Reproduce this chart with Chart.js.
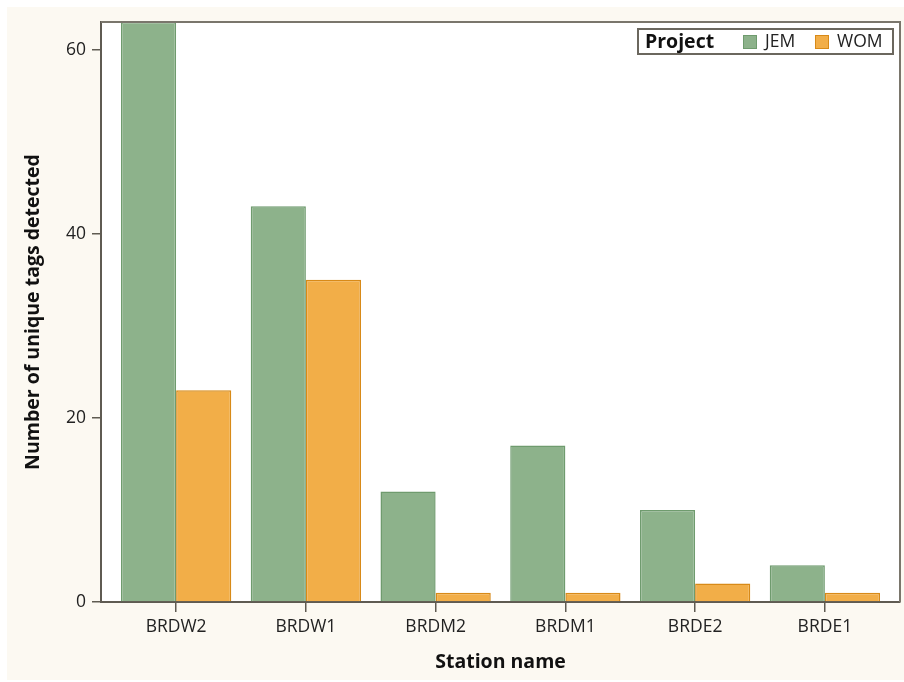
<!DOCTYPE html>
<html>
<head>
<meta charset="utf-8">
<script src="https://cdn.jsdelivr.net/npm/chart.js@4/dist/chart.umd.min.js"></script>
<style>
  html, body { margin: 0; padding: 0; background: #ffffff; }
  #wrap { width: 904px; height: 682px; }
</style>
</head>
<body>
<div id="wrap"><canvas id="chart" width="904" height="682"></canvas></div>
<script>
// ── Data ────────────────────────────────────────────────────────────────
const stations = ['BRDW2', 'BRDW1', 'BRDM2', 'BRDM1', 'BRDE2', 'BRDE1'];
const jemCounts = [63, 43, 12, 17, 10, 4];
const womCounts = [23, 35, 1, 1, 2, 1];
const yTicks = [0, 20, 40, 60];

const FONT = '"Open Sans", Lato, sans-serif';
const AXIS = '#5f5b52';
const FRAME = '#7a766c';

const toPoints = (vals) => vals.map((v, i) => ({ x: i, y: v }));

// ── Background, plot frame and legend ───────────────────────────────────
const decor = {
    id: 'decor',
    beforeDraw(chart) {
        const { ctx, chartArea: a } = chart;
        ctx.save();
        ctx.fillStyle = '#fcf9f2';
        ctx.fillRect(7, 7, chart.width - 7, chart.height - 9);
        ctx.fillStyle = '#ffffff';
        ctx.fillRect(a.left, a.top, a.right - a.left, a.bottom - a.top);
        ctx.restore();
    },
    afterDraw(chart) {
        const { ctx, chartArea: a } = chart;
        ctx.save();
        ctx.strokeStyle = FRAME;
        ctx.lineWidth = 2;
        ctx.beginPath();
        ctx.moveTo(a.left, a.top);
        ctx.lineTo(a.right, a.top);
        ctx.lineTo(a.right, a.bottom);
        ctx.stroke();

        // legend
        const x0 = a.right - 262, y0 = a.top + 7, w = 255, h = 25;
        ctx.fillStyle = '#ffffff';
        ctx.fillRect(x0, y0, w, h);
        ctx.strokeStyle = '#6b675e';
        ctx.lineWidth = 2;
        ctx.strokeRect(x0, y0, w, h);
        ctx.textBaseline = 'middle';
        ctx.fillStyle = '#111111';
        ctx.font = 'bold 19.5px ' + FONT;
        ctx.fillText('Project', x0 + 7, y0 + h / 2 + 1);
        const items = [
            { label: 'JEM', fill: '#8db28b', stroke: '#6f9b6e', x: x0 + 105 },
            { label: 'WOM', fill: '#f2ae48', stroke: '#d88a18', x: x0 + 177 }
        ];
        ctx.font = '17.5px ' + FONT;
        items.forEach(it => {
            ctx.fillStyle = it.fill;
            ctx.fillRect(it.x, y0 + 6, 14, 14);
            ctx.strokeStyle = it.stroke;
            ctx.lineWidth = 1;
            ctx.strokeRect(it.x + 0.5, y0 + 6.5, 13, 13);
            ctx.fillStyle = '#222222';
            ctx.fillText(it.label, it.x + 22, y0 + h / 2 + 1);
        });
        ctx.restore();
    }
};

new Chart(document.getElementById('chart'), {
    type: 'bar',
    data: {
        datasets: [
            {
                label: 'JEM',
                data: toPoints(jemCounts),
                backgroundColor: '#8db28b',
                borderColor: '#6f9b6e',
                borderWidth: 1.5
            },
            {
                label: 'WOM',
                data: toPoints(womCounts),
                backgroundColor: '#f2ae48',
                borderColor: '#d88a18',
                borderWidth: 1.5
            }
        ]
    },
    options: {
        responsive: false,
        animation: false,
        devicePixelRatio: 1,
        categoryPercentage: 0.85,
        barPercentage: 1.0,
        layout: { padding: { left: 0, right: 4, top: 22, bottom: 0 } },
        plugins: {
            legend: { display: false },
            tooltip: { enabled: false }
        },
        scales: {
            x: {
                type: 'linear',
                offset: false,
                min: -0.579,
                max: 5.579,
                afterBuildTicks: (scale) => { scale.ticks = stations.map((_, i) => ({ value: i })); },
                afterFit: (scale) => { scale.height = 80; },
                grid: { offset: false, drawOnChartArea: false, drawTicks: true, tickLength: 10, color: AXIS, lineWidth: 1.5 },
                border: { display: true, color: AXIS, width: 2 },
                ticks: {
                    color: '#222222',
                    font: { family: FONT, size: 17.5 },
                    padding: 5,
                    maxRotation: 0,
                    autoSkip: false,
                    callback: (v) => stations[v]
                },
                title: {
                    display: true,
                    text: 'Station name',
                    color: '#111111',
                    font: { family: FONT, size: 19.5, weight: 'bold' },
                    padding: { top: 0, bottom: 8 }
                }
            },
            y: {
                min: 0,
                max: 63,
                afterBuildTicks: (scale) => { scale.ticks = yTicks.map(v => ({ value: v })); },
                afterFit: (scale) => { scale.width = 101; },
                grid: { drawOnChartArea: false, drawTicks: true, tickLength: 9, color: AXIS, lineWidth: 1.5 },
                border: { display: true, color: AXIS, width: 2 },
                ticks: {
                    color: '#222222',
                    font: { family: FONT, size: 17.5 },
                    padding: 6
                },
                title: {
                    display: true,
                    text: 'Number of unique tags detected',
                    color: '#111111',
                    font: { family: FONT, size: 19.5, weight: 'bold' },
                    padding: { top: 22, bottom: 0 }
                }
            }
        }
    },
    plugins: [decor]
});
</script>
</body>
</html>
